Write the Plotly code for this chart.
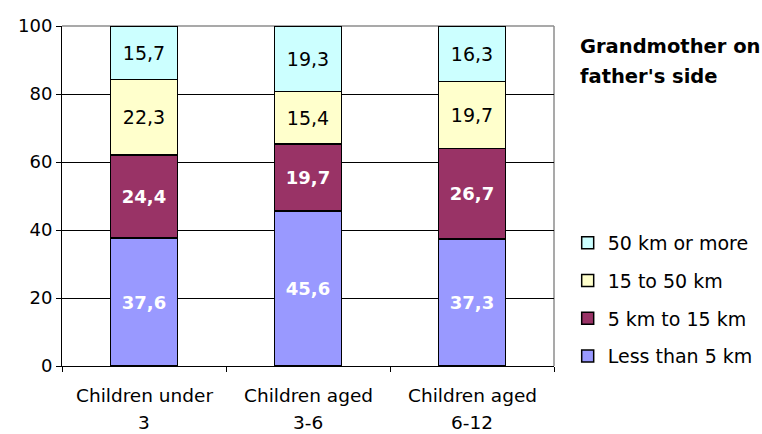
import plotly.graph_objects as go

# Distance from grandmother on father's side, % of children by age group
categories = ["Children under 3", "Children aged 3-6", "Children aged 6-12"]
label_line1 = ["Children under", "Children aged", "Children aged"]
label_line2 = ["3", "3-6", "6-12"]

series_names = ["Less than 5 km", "5 km to 15 km", "15 to 50 km", "50 km or more"]
less_than_5 = [37.6, 45.6, 37.3]
km_5_to_15 = [24.4, 19.7, 26.7]
km_15_to_50 = [22.3, 15.4, 19.7]
km_50_more = [15.7, 19.3, 16.3]

series_values = [less_than_5, km_5_to_15, km_15_to_50, km_50_more]
series_colors = ["#9999FF", "#993366", "#FFFFCC", "#CCFFFF"]
label_colors = ["white", "white", "black", "black"]
label_bold = [True, True, False, False]

y_ticks = [0, 20, 40, 60, 80, 100]

FONT = "DejaVu Sans"

fig = go.Figure()
for i, (name, vals) in enumerate(zip(series_names, series_values)):
    fig.add_trace(go.Bar(
        x=categories,
        y=vals,
        name=name,
        legendgroup=name,
        legendrank=len(series_names) - i,
        width=0.41,
        marker=dict(color=series_colors[i], line=dict(color="black", width=1.5)),
        texttemplate="%{y:.1f}",
        textposition="inside",
        insidetextanchor="middle",
        textangle=0,
        constraintext="none",
        textfont=dict(family=FONT, size=18 if label_bold[i] else 19,
                      color=label_colors[i],
                      weight="bold" if label_bold[i] else "normal"),
        hoverinfo="skip",
    ))

annotations = []
for cat, l1, l2 in zip(categories, label_line1, label_line2):
    annotations.append(dict(x=cat, xref="x", y=0, yref="paper", yanchor="middle",
                            yshift=-29, text=l1, showarrow=False,
                            font=dict(family=FONT, size=18.5, color="black")))
    annotations.append(dict(x=cat, xref="x", y=0, yref="paper", yanchor="middle",
                            yshift=-56, text=l2, showarrow=False,
                            font=dict(family=FONT, size=18.5, color="black")))

title_lines = ["Grandmother on", "father's side"]
for line, ypos in zip(title_lines, [0.941, 0.851]):
    annotations.append(dict(x=1.0508, xref="paper", y=ypos, yref="paper",
                            xanchor="left", yanchor="middle", text=line,
                            showarrow=False, borderpad=0,
                            font=dict(family=FONT, size=19.5, color="black", weight="bold")))

fig.update_layout(
    width=762, height=434,
    margin=dict(l=62, r=208, t=26, b=68),
    barmode="stack",
    separators=",.",
    plot_bgcolor="white",
    paper_bgcolor="white",
    font=dict(family=FONT, size=19, color="black"),
    showlegend=True,
    legend=dict(
        xref="container", yref="container",
        x=0.745, xanchor="left", y=0.484, yanchor="top",
        traceorder="grouped",
        tracegroupgap=10,
        font=dict(family=FONT, size=19, color="black"),
        bgcolor="rgba(0,0,0,0)",
    ),
    annotations=annotations,
    shapes=[
        dict(type="line", xref="paper", yref="paper", x0=0, x1=1, y0=1, y1=1,
             line=dict(color="#8c8c8c", width=1.5), layer="between"),
        dict(type="line", xref="paper", yref="paper", x0=1, x1=1, y0=0, y1=1,
             line=dict(color="#8c8c8c", width=1.5), layer="between"),
    ],
)

fig.update_xaxes(
    type="category",
    showticklabels=False,
    tickson="boundaries",
    ticks="outside", ticklen=5, tickcolor="black", tickwidth=1,
    showgrid=False,
    showline=True, linecolor="black", linewidth=1,
)

fig.update_yaxes(
    range=[0, 100],
    tickvals=y_ticks,
    ticks="outside", ticklen=5, tickcolor="black", tickwidth=1,
    showgrid=True, gridcolor="black", gridwidth=1,
    zeroline=False,
    showline=True, linecolor="black", linewidth=1,
    tickfont=dict(family=FONT, size=18, color="black"),
)

fig.write_html("out.html")
